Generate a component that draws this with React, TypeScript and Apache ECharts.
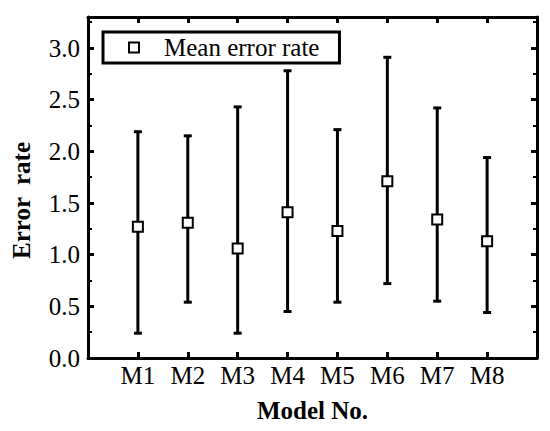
import React, { useEffect, useRef } from "react";
import * as echarts from "echarts";

const categories = ["M1", "M2", "M3", "M4", "M5", "M6", "M7", "M8"];
const meanValues = [1.27, 1.31, 1.06, 1.41, 1.23, 1.71, 1.34, 1.13];
const upperValues = [2.19, 2.15, 2.43, 2.78, 2.21, 2.91, 2.42, 1.94];
const lowerValues = [0.24, 0.54, 0.24, 0.45, 0.54, 0.72, 0.55, 0.44];
const yTicks = [0, 0.5, 1.0, 1.5, 2.0, 2.5, 3.0];

const FONT = "'Liberation Serif', 'Times New Roman', serif";

export default function App() {
  const ref = useRef<HTMLDivElement>(null);
  useEffect(() => {
    if (!ref.current) return;
    const chart = echarts.init(ref.current, undefined, { renderer: "svg" });
    const meanData = categories.map((_, i) => [i + 1, meanValues[i]]);
    const errData = categories.map((_, i) => [i + 1, lowerValues[i], upperValues[i]]);
    const axisLine = { show: true, onZero: false, lineStyle: { color: "#000", width: 3 } };
    const tick = { show: true, inside: true, length: 6, lineStyle: { width: 3, color: "#000" } };
    const minor = { show: true, splitNumber: 2, length: 4, lineStyle: { width: 2, color: "#000" } };
    chart.setOption({
      animation: false,
      grid: { left: 88, right: 13, top: 17, bottom: 73 },
      legend: {
        left: 103,
        top: 32,
        orient: "horizontal",
        borderColor: "#000",
        borderWidth: 3,
        borderRadius: 0,
        padding: [3, 20, 3, 25],
        itemWidth: 10,
        itemHeight: 10,
        data: ["Mean error rate"],
        textStyle: { fontFamily: FONT, fontSize: 25, color: "#000", padding: [0, 0, 0, 20] },
      },
      xAxis: [
        {
          type: "value",
          min: 0,
          max: 9,
          interval: 1,
          position: "bottom",
          axisLine,
          axisTick: tick,
          splitLine: { show: false },
          axisLabel: {
            fontFamily: FONT,
            fontSize: 25,
            color: "#000",
            margin: 5,
            formatter: (v: number) => categories[v - 1] ?? "",
          },
          name: "Model No.",
          nameLocation: "middle",
          nameGap: 40,
          nameTextStyle: { fontFamily: FONT, fontSize: 25, fontWeight: "bold", color: "#000" },
        },
        {
          type: "value",
          min: 0,
          max: 9,
          interval: 1,
          position: "top",
          axisLine,
          axisTick: tick,
          splitLine: { show: false },
          axisLabel: { show: false },
        },
      ],
      yAxis: [
        {
          type: "value",
          min: 0,
          max: 3.3,
          interval: 0.5,
          position: "left",
          axisLine,
          axisTick: tick,
          minorTick: minor,
          splitLine: { show: false },
          axisLabel: {
            fontFamily: FONT,
            fontSize: 25,
            color: "#000",
            margin: 8,
            formatter: (v: number) => (yTicks.some((t) => Math.abs(t - v) < 1e-6) ? v.toFixed(1) : ""),
          },
          name: "Error  rate",
          nameLocation: "middle",
          nameGap: 54,
          nameTextStyle: {
            fontFamily: FONT,
            fontSize: 25,
            fontWeight: "bold",
            color: "#000",
            padding: [0, 26, 0, 0],
          },
        },
        {
          type: "value",
          min: 0,
          max: 3.3,
          interval: 0.5,
          position: "right",
          axisLine,
          axisTick: tick,
          minorTick: minor,
          splitLine: { show: false },
          axisLabel: { show: false },
        },
      ],
      series: [
        {
          name: "Error bar",
          type: "custom",
          xAxisIndex: 0,
          yAxisIndex: 0,
          data: errData,
          renderItem: (params: any, api: any) => {
            const x = api.value(0);
            const lo = api.coord([x, api.value(1)]);
            const hi = api.coord([x, api.value(2)]);
            const hw = 4;
            const style = { stroke: "#000", lineWidth: 3 };
            return {
              type: "group",
              children: [
                { type: "line", shape: { x1: lo[0], y1: lo[1], x2: hi[0], y2: hi[1] }, style },
                { type: "line", shape: { x1: hi[0] - hw, y1: hi[1], x2: hi[0] + hw, y2: hi[1] }, style },
                { type: "line", shape: { x1: lo[0] - hw, y1: lo[1], x2: lo[0] + hw, y2: lo[1] }, style },
              ],
            };
          },
          z: 2,
        },
        {
          name: "Mean error rate",
          type: "scatter",
          xAxisIndex: 0,
          yAxisIndex: 0,
          data: meanData,
          symbol: "rect",
          symbolSize: 10,
          itemStyle: { color: "#fff", borderColor: "#000", borderWidth: 2, opacity: 1 },
          z: 3,
        },
      ],
    });
    return () => chart.dispose();
  }, []);
  return <div ref={ref} style={{ width: 550, height: 431, margin: -8 }} />;
}
